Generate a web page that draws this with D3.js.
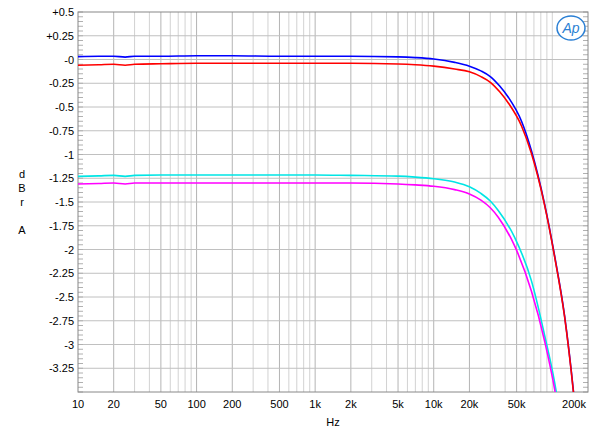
<!DOCTYPE html>
<html>
<head>
<meta charset="utf-8">
<script src="https://d3js.org/d3.v7.min.js"></script>
<style>
  body { margin: 0; background: #fff; }
  text { font-family: Arial, "Liberation Sans", sans-serif; font-size: 11px; fill: #000; }
</style>
</head>
<body>
<svg id="chart" width="600" height="436"></svg>
<script>
// data
const freqFlat = [10, 15, 20, 25, 30, 50, 100, 200, 500, 1000, 2000, 5000, 7000, 10000];
const blueFlat = [0.03, 0.035, 0.035, 0.025, 0.035, 0.035, 0.04, 0.04, 0.035, 0.035, 0.035, 0.028, 0.02, 0.005];
const redFlat = [-0.06, -0.055, -0.05, -0.06, -0.05, -0.045, -0.04, -0.04, -0.04, -0.04, -0.04, -0.047, -0.055, -0.07];
const cyanFlat = [-1.23, -1.225, -1.22, -1.23, -1.22, -1.215, -1.215, -1.215, -1.215, -1.215, -1.22, -1.228, -1.238, -1.255];
const magFlat = [-1.31, -1.305, -1.30, -1.31, -1.30, -1.30, -1.30, -1.30, -1.30, -1.30, -1.30, -1.31, -1.32, -1.335];

const freqRoll = [15000, 20000, 25000, 30000, 36000, 42700, 55000, 66700, 86000, 104000, 127000, 151000, 165000];
const blueRoll = [-0.03, -0.07, -0.12, -0.18, -0.28, -0.40, -0.65, -0.96, -1.52, -2.05, -2.70, -3.50, -4.0];
const redRoll = [-0.10, -0.13, -0.18, -0.24, -0.34, -0.46, -0.70, -0.99, -1.53, -2.06, -2.71, -3.51, -4.0];
const freqRollB = [15000, 20000, 25000, 30000, 35000, 48000, 66700, 86000, 109000, 120000];
const cyanRoll = [-1.29, -1.34, -1.41, -1.49, -1.59, -1.87, -2.33, -2.90, -3.53, -3.9];
const magRoll = [-1.37, -1.415, -1.48, -1.56, -1.66, -1.96, -2.44, -2.96, -3.60, -3.95];

const yTicks = [0.5, 0.25, 0, -0.25, -0.5, -0.75, -1, -1.25, -1.5, -1.75, -2, -2.25, -2.5, -2.75, -3, -3.25];
const xTicks = [10, 20, 50, 100, 200, 500, 1000, 2000, 5000, 10000, 20000, 50000, 200000];
const xTickLabels = ["10", "20", "50", "100", "200", "500", "1k", "2k", "5k", "10k", "20k", "50k", "200k"];

const L = 78, R = 588, T = 12, B = 392;
const svg = d3.select("#chart");
const x = d3.scaleLog().domain([10, 200000]).range([L, R]);
const y = d3.scaleLinear().domain([-3.5, 0.5]).range([B, T]);

// vertical grid: 1..9 per decade
const vgrid = [];
for (let d = 10; d < 200000; d *= 10) for (let m = 1; m < 10; m++) { const f = d * m; if (f > 10 && f < 200000) vgrid.push(f); }
svg.append("g").selectAll("line").data(vgrid).join("line")
  .attr("x1", d => x(d)).attr("x2", d => x(d)).attr("y1", T).attr("y2", B)
  .attr("stroke", d => xTicks.includes(d) ? "#b4b4b4" : "#d2d2d2").attr("stroke-width", 1);

// horizontal grid
svg.append("g").selectAll("line").data(yTicks.slice(1)).join("line")
  .attr("x1", L).attr("x2", R).attr("y1", d => y(d)).attr("y2", d => y(d))
  .attr("stroke", "#c0c0c0");

// minor ticks every 0.05 on both edges
const minor = d3.range(0, 81).map(i => 0.5 - i * 0.05);
svg.append("g").selectAll("line").data(minor).join("line")
  .attr("x1", L).attr("x2", L + 5).attr("y1", d => y(d)).attr("y2", d => y(d)).attr("stroke", "#b0b0b0");
svg.append("g").selectAll("line").data(minor).join("line")
  .attr("x1", R - 5).attr("x2", R).attr("y1", d => y(d)).attr("y2", d => y(d)).attr("stroke", "#b0b0b0");

svg.append("rect").attr("x", L).attr("y", T).attr("width", R - L).attr("height", B - T)
  .attr("fill", "none").attr("stroke", "#888");

svg.append("defs").append("clipPath").attr("id", "clip")
  .append("rect").attr("x", L).attr("y", T).attr("width", R - L).attr("height", B - T);

const line = d3.line().x(d => x(d[0])).y(d => y(d[1])).curve(d3.curveMonotoneX);
const series = [
  { c: "#00e5e5", f: freqFlat.concat(freqRollB), v: cyanFlat.concat(cyanRoll) },
  { c: "#ff00ff", f: freqFlat.concat(freqRollB), v: magFlat.concat(magRoll) },
  { c: "#0000ff", f: freqFlat.concat(freqRoll), v: blueFlat.concat(blueRoll) },
  { c: "#ff0000", f: freqFlat.concat(freqRoll), v: redFlat.concat(redRoll) }
];
const g = svg.append("g").attr("clip-path", "url(#clip)");
series.forEach(s => {
  g.append("path").datum(s.f.map((f, i) => [f, s.v[i]]))
    .attr("d", line).attr("fill", "none").attr("stroke", s.c).attr("stroke-width", 1.6);
});

// y labels
svg.append("g").selectAll("text").data(yTicks).join("text")
  .attr("x", L - 4).attr("y", d => y(d) + 4).attr("text-anchor", "end")
  .text(d => d > 0 ? "+" + d : d === 0 ? "-0" : String(d));

// x labels
svg.append("g").selectAll("text").data(xTicks).join("text")
  .attr("x", (d, i) => i === xTicks.length - 1 ? x(d) - 14 : x(d)).attr("y", B + 16).attr("text-anchor", "middle")
  .text((d, i) => xTickLabels[i]);

svg.append("text").attr("x", 333).attr("y", 426).attr("text-anchor", "middle").text("Hz");
[["d", 178], ["B", 192], ["r", 206], ["A", 234]].forEach(([t, yy]) =>
  svg.append("text").attr("x", 22).attr("y", yy).attr("text-anchor", "middle").text(t));

// Ap logo
const logo = svg.append("g").attr("transform", "translate(571,28)");
logo.append("ellipse").attr("rx", 14).attr("ry", 12).attr("fill", "#fff").attr("stroke", "#2a7fd4").attr("stroke-width", 1.5);
logo.append("text").attr("x", 0).attr("y", 5).attr("text-anchor", "middle")
  .style("font-style", "italic").style("font-size", "14px").style("fill", "#2a7fd4").text("Ap");
</script>
</body>
</html>
